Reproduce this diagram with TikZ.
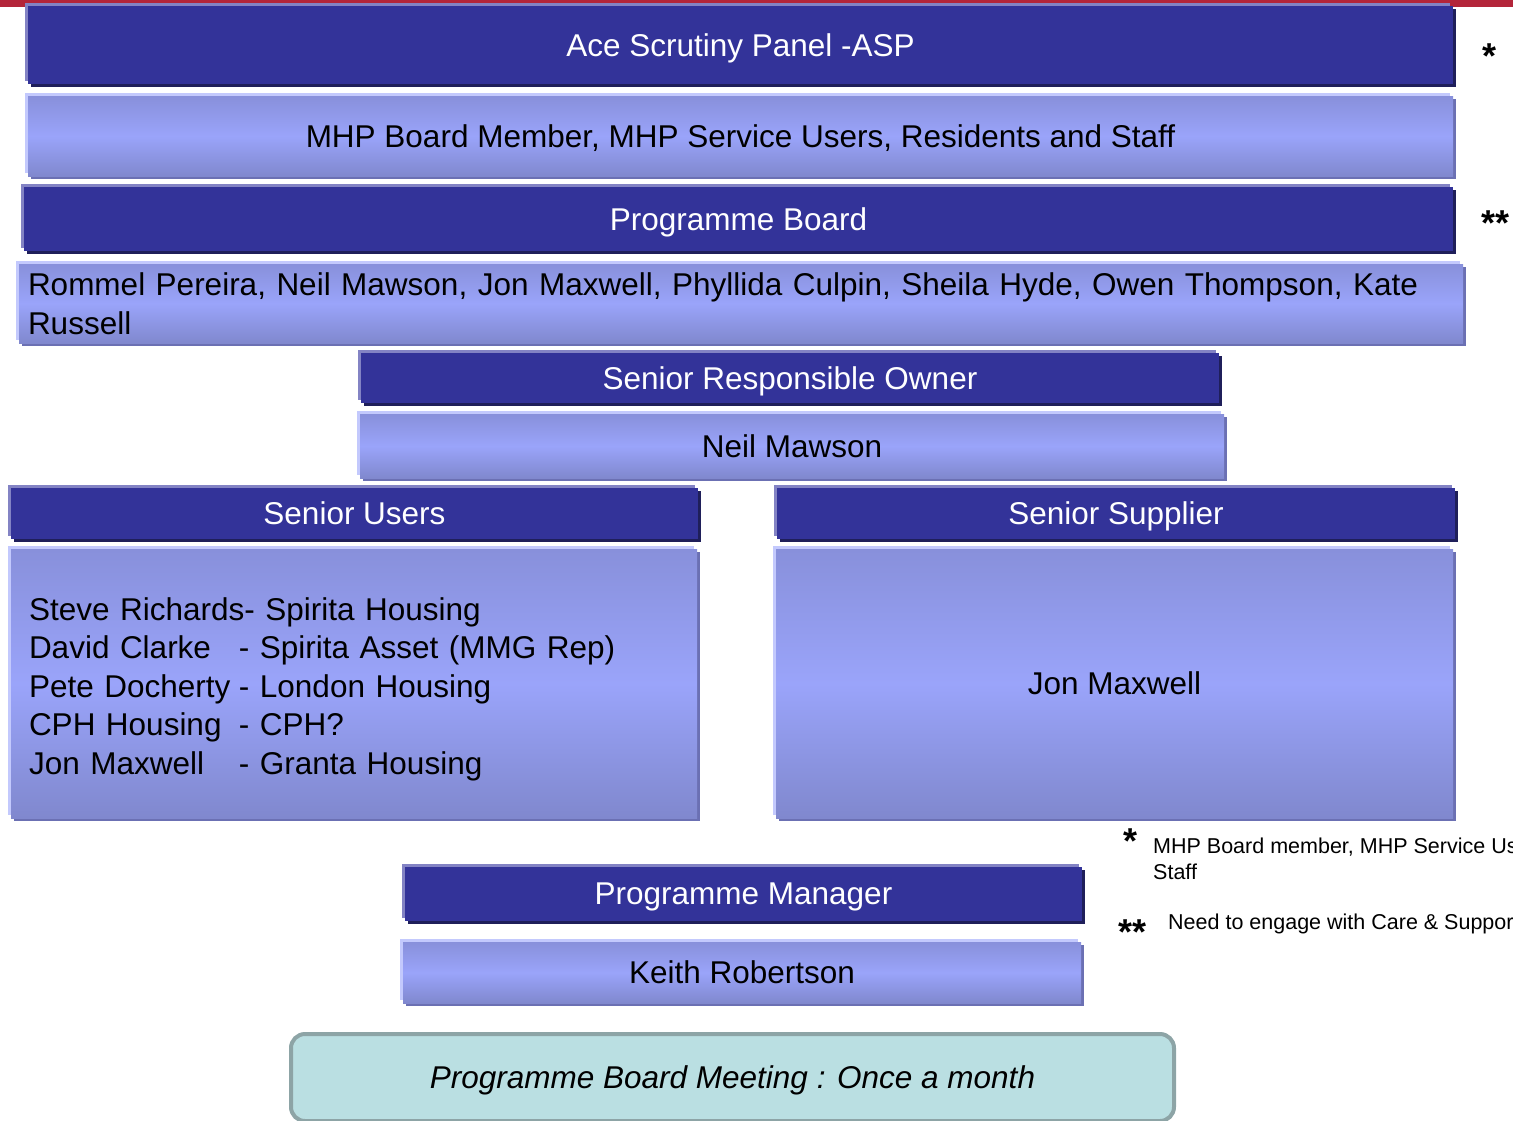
\documentclass[tikz,border=0pt]{standalone}
\usepackage{fontspec}
\setmainfont{Liberation Sans}
\usepackage{tikz}

\definecolor{panelblue}{HTML}{333399}
\definecolor{panelhi}{HTML}{8383C4}
\definecolor{panellow}{HTML}{1F1F5A}
\definecolor{lilacmid}{HTML}{9AA4FA}
\definecolor{lilacedge}{HTML}{8890DB}
\definecolor{lilacbot}{HTML}{8088CE}
\definecolor{lilachi}{HTML}{C3C9FD}
\definecolor{lilaclow}{HTML}{6B70B3}
\definecolor{meetfill}{HTML}{BADFE2}
\definecolor{meetline}{HTML}{8DA4A6}
\definecolor{topred}{HTML}{B3253A}

\newcommand{\who}[1]{\makebox[210pt][l]{#1}}

\begin{document}
\begin{tikzpicture}[x=1pt,y=-1pt,
  box/.style={rectangle,inner sep=0pt,font=\fontsize{31.5}{38.5}\selectfont},
  title/.style={box,text depth=0pt,fill=panelblue,text=white,
    preaction={fill=panelhi,transform canvas={xshift=-3pt,yshift=3pt}},
    preaction={fill=panellow,transform canvas={xshift=3pt,yshift=-3pt}}},
  member/.style={box,top color=lilacedge,bottom color=lilacbot,middle color=lilacmid,
    preaction={fill=lilachi,transform canvas={xshift=-3pt,yshift=3pt}},
    preaction={fill=lilaclow,transform canvas={xshift=3pt,yshift=-3pt}}},
  tag/.style={member,text depth=0pt},
  meeting/.style={box,text depth=0pt,rounded corners=14pt,fill=meetfill,draw=meetline,line width=4pt,
    font=\fontsize{31.5}{38.5}\selectfont\itshape},
  starmark/.style={inner sep=0pt,font=\fontsize{36}{36}\selectfont\bfseries},
  notes/.style={inner sep=0pt,align=left,font=\fontsize{21.5}{26}\selectfont}]

\useasboundingbox (0,0) rectangle (1513,1120);
\fill[topred] (0,0) rectangle (1513,7);

% board levels
\node[title,minimum width=1425pt,minimum height=78pt] (asp) at (740.5,45) {Ace Scrutiny Panel -ASP};
\node[tag,minimum width=1425pt,minimum height=80pt] (aspwho) at (740.5,136)
  {MHP Board Member, MHP Service Users, Residents and Staff};
\node[title,minimum width=1429pt,minimum height=64pt] (board) at (738.5,219) {Programme Board};
\node[member,inner xsep=9pt,text width=1426pt,align=left,minimum height=79pt] (boardwho) at (741,303.5)
  {Rommel Pereira, Neil Mawson, Jon Maxwell, Phyllida Culpin, Sheila Hyde, Owen Thompson, Kate\\Russell};
\node[title,minimum width=858pt,minimum height=50pt] (sro) at (790,378) {Senior Responsible Owner};
\node[tag,minimum width=864pt,minimum height=64pt] (srowho) at (792,446) {Neil Mawson};

% users and supplier
\node[title,minimum width=687pt,minimum height=51pt] (users) at (354.5,513.5) {Senior Users};
\node[title,minimum width=678pt,minimum height=51pt] (supplier) at (1116,513.5) {Senior Supplier};
\node[member,inner xsep=18pt,text width=650pt,align=left,minimum height=269pt] (userswho) at (354,683.5)
  {\rule{0pt}{34pt}Steve Richards- Spirita Housing\\
   \who{David Clarke}- Spirita Asset (MMG Rep)\\
   \who{Pete Docherty}- London Housing\\
   \who{CPH Housing}- CPH?\\
   \who{Jon Maxwell}- Granta Housing};
\node[tag,minimum width=677pt,minimum height=269pt] (supplierwho) at (1114.5,683.5) {Jon Maxwell};

% manager
\node[title,minimum width=677pt,minimum height=54pt] (pm) at (743.5,894) {Programme Manager};
\node[tag,minimum width=678pt,minimum height=61pt] (pmwho) at (742,972.5) {Keith Robertson};
\node[meeting,minimum width=883pt,minimum height=87pt] (meet) at (732.5,1077.5)
  {Programme Board Meeting : Once a month};

% marks and notes
\node[starmark,anchor=north] (m1) at (1489,44) {*};
\node[starmark,anchor=north west] (m2) at (1481,211) {**};
\node[starmark,anchor=north] (n1) at (1130,829) {*};
\node[notes,anchor=north west] (t1) at (1153,838) {MHP Board member, MHP Service Users, Residents and\\Staff};
\node[starmark,anchor=north west] (n2) at (1118,920) {**};
\node[notes,anchor=north west] (t2) at (1168,914) {Need to engage with Care \& Support};
\end{tikzpicture}
\end{document}
